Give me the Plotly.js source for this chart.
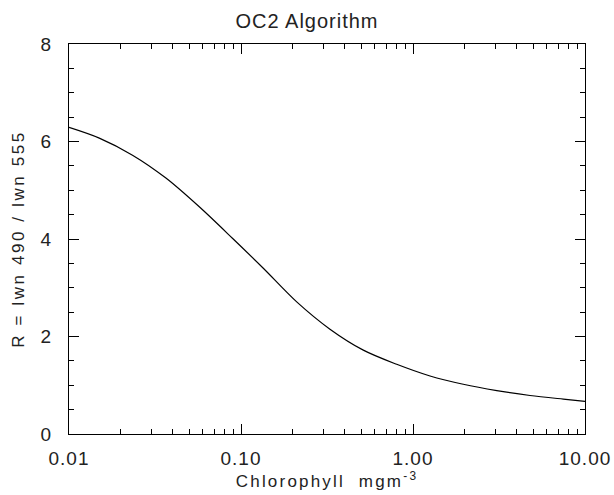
<!DOCTYPE html>
<html>
<head>
<meta charset="utf-8">
<script src="https://cdn.plot.ly/plotly-3.0.1.min.js"></script>
<style>
html,body{margin:0;padding:0;background:#fff;}
#chart{width:614px;height:495px;}
#chart .gtitle{letter-spacing:1px;}
#chart .xtitle{letter-spacing:2.2px;}
#chart .ytitle{letter-spacing:2.6px;}
#chart .xtick text,#chart .ytick text{letter-spacing:1px;}
</style>
</head>
<body>
<div id="chart"></div>
<script>
// Chlorophyll concentration (mg m^-3)
var chlorophyll = [0.01, 0.0150, 0.0234, 0.0366, 0.0572, 0.0895, 0.1348, 0.2108, 0.329, 0.514, 0.804, 1.256, 1.96, 3.07, 4.79, 7.48, 10];
// R = Lwn490 / Lwn555
var ratioR      = [6.29, 6.07, 5.72, 5.25, 4.66, 4.01, 3.40, 2.71, 2.15, 1.72, 1.43, 1.19, 1.02, 0.89, 0.79, 0.715, 0.67];
var xTickVals = [0.01, 0.1, 1, 10];
var xTickText = ["0.01", "0.10", "1.00", "10.00"];
var yTickVals = [0, 2, 4, 6, 8];

var fontFam = "Liberation Sans, Arial, sans-serif";
var txtCol = "#222";

var trace = {
  x: chlorophyll, y: ratioR, type: "scatter", mode: "lines",
  line: {color: "#000", width: 1.2, shape: "spline", smoothing: 0.9},
  hoverinfo: "skip"
};

var layout = {
  width: 614, height: 495,
  margin: {l: 69, r: 29, t: 44, b: 61, pad: 0},
  paper_bgcolor: "#fff", plot_bgcolor: "#fff",
  showlegend: false,
  font: {family: fontFam, color: txtCol},
  title: {text: "OC2 Algorithm", font: {family: fontFam, size: 20, color: txtCol},
          xref: "container", x: 0.5, xanchor: "center", yref: "container", y: 0.958, yanchor: "middle"},
  xaxis: {
    type: "log", range: [-2, 1],
    tickmode: "array", tickvals: xTickVals, ticktext: xTickText,
    ticks: "inside", ticklen: 10, tickwidth: 1, tickcolor: "#000",
    showline: true, linecolor: "#000", linewidth: 1, mirror: "allticks",
    showgrid: false, zeroline: false,
    tickfont: {family: fontFam, size: 19, color: txtCol},
    ticklabelstandoff: 7,
    minor: {ticks: "inside", ticklen: 5, tickwidth: 1, tickcolor: "#000", dtick: "D1", showgrid: false},
    title: {text: "Chlorophyll  mgm<sup>-3</sup>", font: {family: fontFam, size: 17, color: txtCol}, standoff: 3}
  },
  yaxis: {
    range: [0, 8],
    tickmode: "array", tickvals: yTickVals,
    ticks: "inside", ticklen: 10, tickwidth: 1, tickcolor: "#000",
    showline: true, linecolor: "#000", linewidth: 1, mirror: "allticks",
    showgrid: false, zeroline: false,
    tickfont: {family: fontFam, size: 19, color: txtCol},
    ticklabelstandoff: 12,
    minor: {ticks: "inside", ticklen: 5, tickwidth: 1, tickcolor: "#000", dtick: 0.5, showgrid: false},
    title: {text: "R = lwn 490 / lwn 555", font: {family: fontFam, size: 17, color: txtCol}, standoff: 12}
  }
};

Plotly.newPlot("chart", [trace], layout, {staticPlot: true, displayModeBar: false});
</script>
</body>
</html>
